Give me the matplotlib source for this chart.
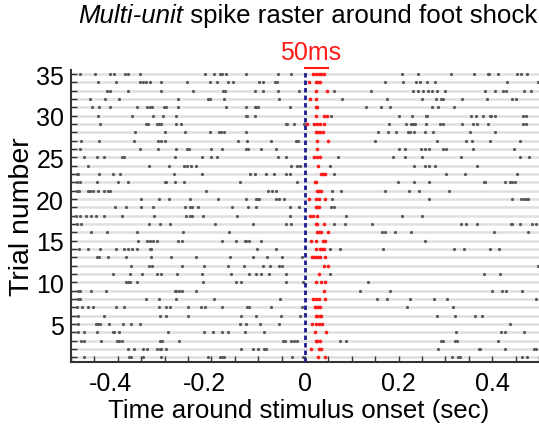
import numpy as np
import matplotlib
matplotlib.use("Agg")
import matplotlib.pyplot as plt
from matplotlib.ticker import FixedLocator, MultipleLocator
from matplotlib.transforms import ScaledTranslation

plt.rcParams["font.family"] = ["Liberation Sans", "DejaVu Sans"]

# spike times (sec) per trial, trial 1 first
spikes = [
    [-0.472, -0.376, -0.372, -0.347, -0.308, -0.208, -0.182, -0.177, -0.172, -0.027, -0.004, 0.028, 0.042, 0.315, 0.327, 0.332, 0.464, 0.474],
    [-0.378, -0.366, -0.347, -0.337, -0.317, -0.310, -0.307, -0.297, -0.136, -0.112, -0.100, -0.088, -0.084, 0.012, 0.030, 0.034, 0.284, 0.372, 0.373, 0.427, 0.489, 0.494],
    [-0.478, -0.472, -0.436, -0.401, -0.398, -0.391, -0.309, -0.305, -0.269, -0.048, -0.043, -0.029, -0.024, -0.018, 0.023, 0.026, 0.033, 0.074, 0.087, 0.290, 0.295, 0.320, 0.325, 0.412],
    [-0.485, -0.472, -0.444, -0.411, -0.408, -0.397, -0.292, -0.216, -0.196, -0.177, -0.164, -0.129, -0.087, 0.021, 0.044, 0.323, 0.418, 0.427, 0.469],
    [-0.485, -0.447, -0.442, -0.439, -0.419, -0.389, -0.371, -0.353, -0.138, -0.125, -0.097, -0.055, 0.016, 0.024, 0.030, 0.037, 0.437],
    [-0.485, -0.429, -0.310, -0.296, -0.251, -0.136, -0.104, -0.052, -0.011, 0.023, 0.026, 0.031, 0.035, 0.282, 0.321, 0.363, 0.379],
    [-0.487, -0.476, -0.463, -0.453, -0.404, -0.387, -0.312, -0.297, -0.289, -0.251, -0.223, -0.213, -0.177, -0.124, -0.120, -0.072, -0.006, 0.021, 0.024, 0.028, 0.031, 0.217, 0.316],
    [-0.485, -0.480, -0.340, -0.312, -0.275, -0.195, -0.053, 0.017, 0.024, 0.030, 0.043, 0.154, 0.175, 0.225, 0.276, 0.304, 0.494],
    [-0.485, -0.480, -0.458, -0.426, -0.278, -0.275, -0.270, -0.262, -0.233, 0.041, 0.118, 0.181, 0.400, 0.422, 0.430, 0.464],
    [-0.383, -0.378, -0.374, -0.359, -0.218, -0.147, -0.137, -0.040, -0.004, 0.023, 0.034, 0.043, 0.135],
    [-0.411, -0.373, -0.348, -0.317, -0.307, -0.273, -0.219, -0.159, -0.120, -0.105, -0.095, -0.077, -0.041, 0.030, 0.053, 0.382, 0.416],
    [-0.371, -0.333, -0.326, -0.262, -0.216, -0.165, -0.130, -0.090, -0.074, -0.055, -0.050, 0.040, 0.050, 0.497],
    [-0.444, -0.440, -0.421, -0.383, -0.330, -0.287, -0.232, -0.161, -0.112, -0.081, -0.050, -0.006, 0.014, 0.019, 0.023, 0.028, 0.031, 0.042],
    [-0.483, -0.463, -0.437, -0.404, -0.387, -0.378, -0.369, -0.359, -0.332, -0.328, -0.102, -0.063, 0.023, 0.031, 0.036, 0.041, 0.053, 0.074, 0.167, 0.318, 0.340, 0.395, 0.414],
    [-0.357, -0.337, -0.332, -0.325, -0.317, -0.271, -0.262, -0.177, -0.147, -0.129, -0.125, -0.120, -0.093, 0.012, 0.024, 0.038, 0.042, 0.256],
    [-0.458, -0.424, -0.359, -0.260, -0.162, 0.026, 0.030, 0.035, 0.050, 0.165, 0.172, 0.192, 0.227, 0.403, 0.477],
    [-0.488, -0.479, -0.333, -0.309, -0.288, -0.193, -0.112, -0.040, -0.029, 0.023, 0.026, 0.040, 0.063, 0.085, 0.144, 0.334, 0.343, 0.368, 0.440, 0.443, 0.459, 0.485, 0.494],
    [-0.490, -0.480, -0.468, -0.458, -0.447, -0.430, -0.392, -0.323, -0.255, -0.245, -0.241, -0.218, -0.145, -0.033, 0.011, 0.017, 0.026, 0.088, 0.208, 0.250],
    [-0.406, -0.382, -0.350, -0.325, -0.257, -0.246, -0.241, -0.228, -0.157, -0.122, -0.104, -0.031, -0.013, 0.023, 0.026, 0.030, 0.056, 0.061],
    [-0.351, -0.312, -0.290, -0.245, -0.186, -0.125, -0.105, -0.102, -0.098, -0.061, -0.056, -0.045, 0.008, 0.023, 0.030, 0.042, 0.058, 0.265, 0.442, 0.462, 0.467, 0.472, 0.477],
    [-0.488, -0.483, -0.463, -0.460, -0.453, -0.442, -0.430, -0.421, -0.417, -0.211, -0.080, -0.070, -0.061, 0.026, 0.030, 0.035, 0.058, 0.078, 0.172, 0.222, 0.244, 0.308],
    [-0.488, -0.480, -0.444, -0.399, -0.378, -0.300, -0.296, -0.278, -0.259, -0.138, -0.017, 0.021, 0.024, 0.199, 0.232, 0.266, 0.382, 0.384, 0.428, 0.437, 0.443, 0.449],
    [-0.488, -0.485, -0.440, -0.410, -0.396, -0.280, -0.219, -0.118, -0.106, -0.083, -0.066, -0.040, -0.033, 0.035, 0.039, 0.042, 0.061, 0.302, 0.341, 0.453],
    [-0.463, -0.333, -0.290, -0.259, -0.253, -0.244, -0.233, -0.029, -0.017, -0.010, 0.028, 0.053, 0.232, 0.256, 0.265, 0.277, 0.368],
    [-0.473, -0.444, -0.430, -0.392, -0.387, -0.278, -0.221, -0.200, -0.188, -0.058, -0.041, 0.019, 0.026, 0.031, 0.071, 0.187, 0.213, 0.251, 0.334, 0.459, 0.478],
    [-0.481, -0.353, -0.315, -0.276, -0.253, -0.248, -0.200, -0.177, -0.127, -0.122, -0.093, -0.061, 0.026, 0.201, 0.213, 0.247, 0.256, 0.266, 0.294, 0.301, 0.359, 0.446],
    [-0.478, -0.440, -0.366, -0.315, -0.308, -0.300, -0.144, -0.123, -0.073, -0.020, -0.015, 0.026, 0.049, 0.150, 0.283, 0.345, 0.357, 0.395, 0.459],
    [-0.364, -0.300, -0.257, -0.202, -0.184, -0.179, -0.173, -0.127, 0.023, 0.028, 0.033, 0.039, 0.156, 0.177, 0.194, 0.220, 0.224, 0.233, 0.257, 0.274, 0.352, 0.407],
    [-0.437, -0.340, -0.335, -0.316, -0.312, -0.308, -0.275, -0.264, -0.041, -0.038, -0.024, -0.003, 0.004, 0.019, 0.026, 0.033, 0.040, 0.179, 0.215, 0.226, 0.231, 0.236, 0.259, 0.288, 0.294, 0.336, 0.358, 0.368, 0.391, 0.466, 0.473],
    [-0.442, -0.369, -0.325, -0.303, -0.275, -0.127, -0.124, -0.107, 0.024, 0.040, 0.046, 0.056, 0.200, 0.229, 0.258, 0.261, 0.354, 0.366, 0.380, 0.396, 0.398, 0.407, 0.466, 0.473],
    [-0.455, -0.440, -0.417, -0.360, -0.337, -0.332, -0.326, -0.301, -0.298, -0.271, -0.169, -0.127, -0.107, -0.104, -0.100, -0.033, 0.023, 0.026, 0.130, 0.163, 0.182, 0.272, 0.284, 0.318],
    [-0.460, -0.428, -0.397, -0.271, -0.208, -0.204, -0.173, -0.055, 0.010, 0.023, 0.080, 0.176, 0.251, 0.279, 0.290, 0.294, 0.336, 0.388, 0.442, 0.450],
    [-0.424, -0.417, -0.378, -0.307, -0.239, -0.175, -0.170, -0.106, -0.090, -0.058, -0.013, 0.023, 0.046, 0.063, 0.140, 0.231, 0.242, 0.252, 0.263, 0.272, 0.281, 0.300, 0.384, 0.405, 0.423, 0.429, 0.468, 0.482],
    [-0.442, -0.404, -0.353, -0.347, -0.340, -0.332, -0.308, -0.253, -0.204, -0.188, -0.164, -0.154, -0.098, -0.090, -0.065, -0.059, 0.008, 0.023, 0.027, 0.031, 0.172, 0.209, 0.238, 0.246, 0.261, 0.277, 0.432, 0.497],
    [-0.481, -0.448, -0.417, -0.409, -0.385, -0.379, -0.352, -0.213, -0.195, -0.182, -0.177, -0.168, -0.127, -0.058, -0.029, 0.017, 0.023, 0.030, 0.034, 0.040, 0.208, 0.242, 0.313, 0.361, 0.391, 0.393, 0.412, 0.454, 0.462, 0.474],
]

response_window = (0.0, 0.05)   # spikes here are drawn red
xticks = [-0.4, -0.2, 0.0, 0.2, 0.4]
xtick_labels = ["-0.4", "-0.2", "0", "0.2", "0.4"]
yticks = [5, 10, 15, 20, 25, 30, 35]

n_trials = len(spikes)

fig = plt.figure(figsize=(5.39, 4.27), dpi=100)
ax = fig.add_axes([0.1317, 0.151, 0.8683, 0.683])

trials = np.arange(1, n_trials + 1)
ax.hlines(trials, -0.5, 0.5, color="#e0e0e0", linewidth=1.8, zorder=1)

for trial, times in zip(trials, spikes):
    t = np.asarray(times)
    hit = (t > response_window[0]) & (t <= response_window[1])
    ax.plot(t[~hit], np.full((~hit).sum(), trial), "o", color="#5a5a5a",
            markersize=2.3, markeredgewidth=0, zorder=3)
    ax.plot(t[hit], np.full(hit.sum(), trial), "o", color="#ff1a1a",
            markersize=2.6, markeredgewidth=0, zorder=3)

ax.vlines(0, 0.5, n_trials + 0.5, color="#1c1c8f", linewidth=2,
          linestyles=(0, (1.6, 1.1)), zorder=4)

ax.set_xlim(-0.5, 0.5)
ax.set_ylim(0.5, n_trials + 0.5)

ax.xaxis.set_major_locator(FixedLocator(xticks))
ax.set_xticklabels(xtick_labels)
ax.xaxis.set_minor_locator(MultipleLocator(0.05))
ax.yaxis.set_major_locator(FixedLocator(yticks))
ax.yaxis.set_minor_locator(MultipleLocator(1))

ax.tick_params(which="both", direction="in", color="#333333", width=1.0)
ax.tick_params(which="major", length=4, labelsize=18, pad=5)
ax.tick_params(which="minor", length=4)
ax.tick_params(axis="x", which="major", pad=7)

# negative labels sit a little left of their ticks in the original
shift = ScaledTranslation(-7 / 100, 0, fig.dpi_scale_trans)
for tick, lab in zip(ax.xaxis.get_major_ticks(), xtick_labels):
    if lab.startswith("-"):
        tick.label1.set_transform(tick.label1.get_transform() + shift)

for side in ["top", "right"]:
    ax.spines[side].set_visible(False)
for side in ["left", "bottom"]:
    ax.spines[side].set_color("#333333")
    ax.spines[side].set_linewidth(1.5)

ax.set_xlabel("Time around stimulus onset (sec)", fontsize=18.6, labelpad=2)
ax.xaxis.label.set_x(0.487)
ax.set_ylabel("Trial number", fontsize=20.5, labelpad=1)

# 50 ms scale bar above the response window
ax.plot(response_window, [35.75, 35.75], color="#ff1a1a", linewidth=1.5,
        clip_on=False)
ax.text(0.011, 37.6, "50ms", color="#ff1a1a", fontsize=18,
        ha="center", va="center", clip_on=False)

t1 = fig.text(0.1447, 0.962, "Multi-unit", fontsize=18.6, style="italic",
              ha="left", va="center")
ax.annotate(" spike raster around foot shock", xy=(1, 0), xycoords=t1,
            fontsize=18.6, ha="left", va="bottom")

fig.savefig("out.png", dpi=100)
